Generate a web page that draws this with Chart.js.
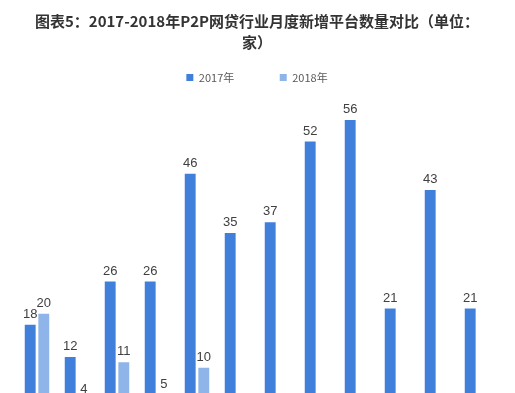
<!DOCTYPE html>
<html>
<head>
<meta charset="utf-8">
<script src="https://cdn.jsdelivr.net/npm/chart.js@4"></script>
<style>
  html, body { margin: 0; padding: 0; background: #fff; overflow: hidden; }
  #wrap { width: 515px; height: 450px; position: relative; }
</style>
</head>
<body>
<div id="wrap"><canvas id="chart"></canvas></div>
<script>
// months (x axis sits below the visible area in the reference)
var months = ['1月', '2月', '3月', '4月', '5月', '6月', '7月', '8月', '9月', '10月', '11月', '12月'];
var data2017 = [18, 12, 26, 26, 46, 35, 37, 52, 56, 21, 43, 21];
var data2018 = [20, 4, 11, 5, 10, 1, 2];
var seriesNames = ['2017年', '2018年'];

// value labels above bars
var barLabels = {
    id: 'barLabels',
    afterDatasetsDraw: function(chart) {
        var ctx = chart.ctx;
        ctx.save();
        ctx.font = '13px "Liberation Sans", Arial, sans-serif';
        ctx.fillStyle = '#404040';
        ctx.textAlign = 'center';
        ctx.textBaseline = 'bottom';
        chart.data.datasets.forEach(function(ds, i) {
            chart.getDatasetMeta(i).data.forEach(function(bar, j) {
                if (ds.data[j] == null) return;
                ctx.fillText(ds.data[j], bar.x, bar.y - 4);
            });
        });
        ctx.restore();
    }
};

new Chart(document.getElementById('chart').getContext('2d'), {
    type: 'bar',
    data: {
        labels: months,
        datasets: [{
            label: seriesNames[0],
            data: data2017,
            backgroundColor: '#4080da'
        }, {
            label: seriesNames[1],
            data: data2018,
            backgroundColor: '#8eb4e9'
        }]
    },
    options: {
        responsive: true,
        maintainAspectRatio: false,
        animation: false,
        categoryPercentage: 0.68,
        barPercentage: 0.8,
        layout: { padding: { left: 17, right: 18, top: 0, bottom: 0 } },
        plugins: {
            title: {
                display: true,
                text: ['图表5：2017-2018年P2P网贷行业月度新增平台数量对比（单位：', '家）'],
                font: { family: '"Noto Sans CJK SC", sans-serif', size: 15, weight: 'bold', lineHeight: 1.4 },
                color: '#333333',
                padding: { top: 11, bottom: 9 }
            },
            legend: {
                position: 'top',
                labels: {
                    boxWidth: 7,
                    boxHeight: 7,
                    padding: 10,
                    color: '#595959',
                    font: { family: '"Noto Sans CJK SC", sans-serif', size: 11 },
                    generateLabels: function(chart) {
                        var items = Chart.defaults.plugins.legend.labels.generateLabels(chart);
                        // wide gap between the two legend entries
                        items[0].text = items[0].text + '\u2003\u2003\u2003 ';
                        return items;
                    }
                }
            },
            tooltip: { enabled: false }
        },
        scales: {
            x: {
                grid: { display: false },
                border: { display: false },
                ticks: { color: '#595959', font: { size: 12 } }
            },
            y: {
                display: false,
                min: 0,
                max: 61
            }
        }
    },
    plugins: [barLabels]
});
</script>
</body>
</html>
